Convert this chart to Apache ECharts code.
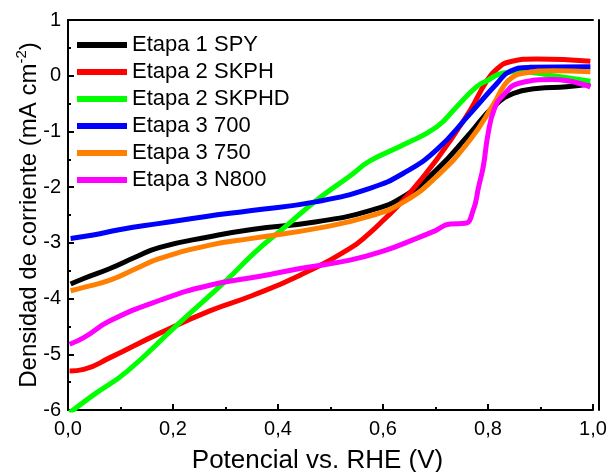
<!DOCTYPE html>
<html>
<head>
<meta charset="utf-8">
<script src="https://cdn.jsdelivr.net/npm/echarts@6/dist/echarts.min.js"></script>
<style>html,body{margin:0;padding:0;background:#fff;}#c{width:611px;height:472px;}</style>
</head>
<body>
<div id="c"></div>
<script>
const seriesNames = ['Etapa 1 SPY', 'Etapa 2 SKPH', 'Etapa 2 SKPHD', 'Etapa 3 700', 'Etapa 3 750', 'Etapa 3 N800'];
const seriesColors = ['#000000', '#ff0000', '#00ff00', '#0000ff', '#ff7f00', '#ff00ff'];

const spy = [[0.005,-3.74],[0.03,-3.64],[0.08,-3.46],[0.13,-3.25],[0.175,-3.08],[0.27,-2.89],[0.35,-2.76],[0.474,-2.62],[0.575,-2.42],[0.639,-2.17],[0.702,-1.69],[0.766,-1.03],[0.81,-0.56],[0.848,-0.32],[0.893,-0.23],[0.95,-0.2],[0.995,-0.15]];
const skph = [[0.003,-5.30],[0.03,-5.27],[0.08,-5.06],[0.175,-4.62],[0.27,-4.22],[0.35,-3.95],[0.442,-3.58],[0.537,-3.10],[0.575,-2.82],[0.60,-2.60],[0.639,-2.23],[0.702,-1.51],[0.766,-0.62],[0.797,-0.10],[0.817,0.12],[0.842,0.25],[0.893,0.30],[0.995,0.26]];
const skphd = [[0.003,-6.05],[0.05,-5.72],[0.112,-5.31],[0.207,-4.48],[0.302,-3.67],[0.356,-3.17],[0.41,-2.74],[0.474,-2.23],[0.537,-1.80],[0.575,-1.53],[0.639,-1.24],[0.702,-0.92],[0.74,-0.56],[0.778,-0.20],[0.80,-0.08],[0.829,0.05],[0.86,0.07],[0.924,0.0],[0.995,-0.10]];
const e700 = [[0.005,-2.92],[0.048,-2.86],[0.10,-2.76],[0.175,-2.65],[0.26,-2.53],[0.35,-2.42],[0.474,-2.26],[0.575,-2.02],[0.639,-1.75],[0.702,-1.33],[0.766,-0.68],[0.817,-0.14],[0.842,0.08],[0.88,0.15],[0.995,0.16]];
const e750 = [[0.005,-3.86],[0.03,-3.80],[0.08,-3.67],[0.13,-3.46],[0.175,-3.28],[0.27,-3.04],[0.35,-2.92],[0.474,-2.74],[0.575,-2.52],[0.639,-2.27],[0.702,-1.81],[0.766,-1.15],[0.81,-0.52],[0.829,-0.20],[0.845,-0.04],[0.87,0.05],[0.924,0.09],[0.995,0.07]];
const n800 = [[0.003,-4.82],[0.03,-4.70],[0.08,-4.40],[0.175,-4.03],[0.27,-3.76],[0.366,-3.60],[0.442,-3.46],[0.537,-3.31],[0.60,-3.15],[0.664,-2.92],[0.70,-2.78],[0.728,-2.66],[0.756,-2.65],[0.772,-2.41],[0.782,-2.00],[0.791,-1.63],[0.80,-1.05],[0.812,-0.60],[0.829,-0.35],[0.861,-0.13],[0.924,-0.07],[0.995,-0.20]];
const seriesData = [spy, skph, skphd, e700, e750, n800];

const xMin = 0, xMax = 1, xStep = 0.2;
const yMin = -6, yMax = 1, yStep = 1;

const FONT = 'Liberation Sans, Arial, sans-serif';
const chart = echarts.init(document.getElementById('c'), null, {renderer: 'canvas'});

const axisLine = {show: true, onZero: false, lineStyle: {color: '#000', width: 2}};
chart.setOption({
  animation: false,
  backgroundColor: '#fff',
  grid: {left: 68, right: 18, top: 20, bottom: 62, containLabel: false, outerBoundsMode: 'none'},
  legend: {
    left: 72, top: 29, orient: 'vertical',
    icon: 'rect', itemWidth: 50, itemHeight: 6, itemGap: 5,
    textStyle: {fontFamily: FONT, fontSize: 22, color: '#000'},
    data: seriesNames
  },
  xAxis: [{
    type: 'value', min: xMin, max: xMax, interval: xStep, position: 'bottom',
    name: 'Potencial vs. RHE (V)', nameLocation: 'middle', nameGap: 38, nameMoveOverlap: false,
    nameTextStyle: {fontFamily: FONT, fontSize: 26, color: '#000', padding: [0, 26, 0, 0]},
    axisLine: axisLine,
    axisTick: {show: true, inside: true, length: 6, lineStyle: {color: '#000', width: 2}},
    minorTick: {show: true, splitNumber: 2, length: 3, lineStyle: {color: '#000', width: 2}},
    axisLabel: {fontFamily: FONT, fontSize: 20, color: '#000', margin: 9,
      formatter: v => v.toFixed(1).replace('.', ',')},
    splitLine: {show: false}
  }, {
    type: 'value', min: xMin, max: xMax, position: 'top',
    axisLine: axisLine, axisTick: {show: false}, axisLabel: {show: false}, splitLine: {show: false}
  }],
  yAxis: [{
    type: 'value', min: yMin, max: yMax, interval: yStep, position: 'left',
    name: '{t|Densidad de corriente (mA cm}{s|-2}{t|)}', nameLocation: 'middle', nameGap: 24, nameMoveOverlap: false,
    nameTextStyle: {fontFamily: FONT, fontSize: 24, color: '#000',
      rich: {t: {fontFamily: FONT, fontSize: 24, color: '#000', lineHeight: 30},
             s: {fontFamily: FONT, fontSize: 15, color: '#000', lineHeight: 30, verticalAlign: 'top', padding: [0,0,14,0]}}},
    axisLine: axisLine,
    axisTick: {show: true, inside: true, length: 6, lineStyle: {color: '#000', width: 2}},
    minorTick: {show: true, splitNumber: 2, length: 3, lineStyle: {color: '#000', width: 2}},
    axisLabel: {fontFamily: FONT, fontSize: 20, color: '#000', margin: 7},
    splitLine: {show: false}
  }, {
    type: 'value', min: yMin, max: yMax, position: 'right', offset: 6,
    axisLine: axisLine, axisTick: {show: false}, axisLabel: {show: false}, splitLine: {show: false}
  }],
  series: seriesData.map((d, i) => ({
    name: seriesNames[i], type: 'line', data: d, smooth: 0.5,
    showSymbol: false, symbol: 'none', clip: true,
    lineStyle: {color: seriesColors[i], width: 5},
    itemStyle: {color: seriesColors[i]}
  }))
});
</script>
</body>
</html>
